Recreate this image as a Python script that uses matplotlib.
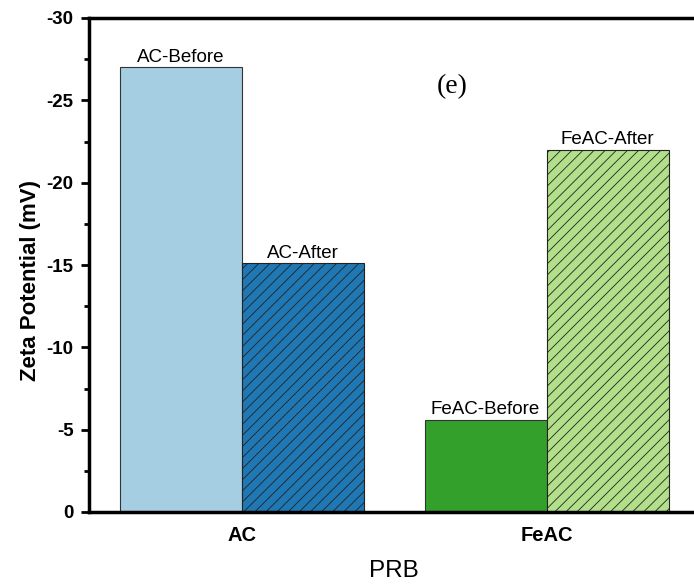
import numpy as np
import matplotlib.pyplot as plt

groups = ["AC", "FeAC"]
before = [-27.0, -5.6]
after = [-15.1, -22.0]
before_labels = ["AC-Before", "FeAC-Before"]
after_labels = ["AC-After", "FeAC-After"]
before_colors = ["#a6cee3", "#33a02c"]
after_colors = ["#1f78b4", "#b2df8a"]

plt.rcParams['font.family'] = ['Liberation Sans', 'DejaVu Sans']
plt.rcParams['hatch.linewidth'] = 0.6
plt.rcParams['axes.unicode_minus'] = False

fig = plt.figure(figsize=(6.94, 5.86), dpi=100)
ax = fig.add_axes([89 / 694, 1 - 512 / 586, 610 / 694, 494 / 586])

x = np.arange(len(groups))
width = 0.4

for i in range(len(groups)):
    ax.bar(x[i] - width / 2, before[i], width, color=before_colors[i],
           edgecolor="#333333", linewidth=0.8)
    ax.bar(x[i] + width / 2, after[i], width, color=after_colors[i],
           edgecolor="#222222", linewidth=0.8, hatch="///")
    ax.text(x[i] - width / 2, before[i] - 0.1, before_labels[i],
            ha="center", va="bottom", fontsize=13.5)
    ax.text(x[i] + width / 2, after[i] - 0.1, after_labels[i],
            ha="center", va="bottom", fontsize=13.5)

ax.set_xlim(-0.5, 1.5)
ax.set_ylim(0, -30)
ax.set_yticks(np.arange(0, -31, -5))
ax.set_yticks(np.arange(0, -31, -2.5), minor=True)
ax.set_xticks(x)
ax.set_xticklabels(groups, fontweight="bold", fontsize=14.5)
for lab in ax.get_yticklabels():
    lab.set_fontweight("bold")
    lab.set_fontsize(13.5)

ax.tick_params(axis="y", which="major", direction="out", length=6, width=2, pad=5)
ax.tick_params(axis="y", which="minor", direction="out", length=3.5, width=2)
ax.tick_params(axis="x", which="major", length=0, pad=10)

for side in ["left", "top", "bottom"]:
    ax.spines[side].set_linewidth(2.5)
ax.spines["right"].set_visible(False)

ax.set_ylabel("Zeta Potential (mV)", fontweight="bold", fontsize=16)
ax.yaxis.set_label_coords(-0.078, 0.468)
ax.set_xlabel("PRB", fontsize=17.5, labelpad=11)

ax.text(0.69, -25.85, "(e)", ha="center", va="center", fontsize=20,
        family=["Liberation Serif", "DejaVu Serif"])

fig.savefig("out.png", dpi=100)
